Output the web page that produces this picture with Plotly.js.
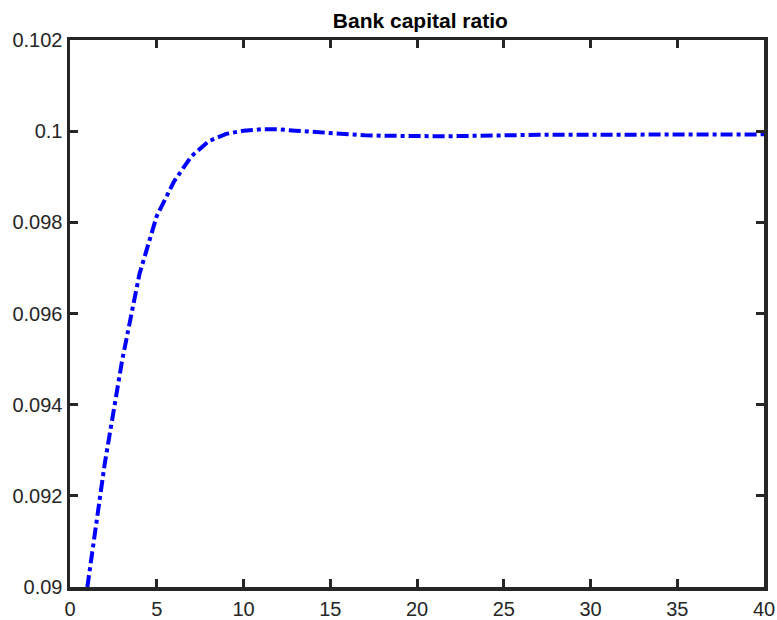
<!DOCTYPE html>
<html>
<head>
<meta charset="utf-8">
<script src="https://cdn.plot.ly/plotly-3.0.1.min.js"></script>
<style>html,body{margin:0;padding:0;background:#fff;}#chart{width:777px;height:620px;}</style>
</head>
<body>
<div id="chart"></div>
<script>
const periods = [1,2,3,4,5,6,7,8,9,10,11,12,13,14,15,16,17,18,19,20,21,22,23,24,25,26,27,28,29,30,31,32,33,34,35,36,37,38,39,40];
const capitalRatio = [0.0900,0.0927,0.09496,0.09686,0.09814,0.0989,0.09945,0.09978,0.09994,0.10001,
  0.10004,0.10004,0.10001,0.09998,0.09995,0.09993,0.09991,0.0999,0.09989,0.09989,
  0.09989,0.09989,0.0999,0.0999,0.09991,0.09991,0.09992,0.09992,0.09992,0.09993,
  0.09993,0.09993,0.09993,0.09993,0.09993,0.09993,0.09993,0.09993,0.09993,0.09993];
const xTicks = [0,5,10,15,20,25,30,35,40];
const yTicks = [0.09,0.092,0.094,0.096,0.098,0.1,0.102];
const yTickText = ['0.09','0.092','0.094','0.096','0.098','0.1','0.102'];

const axisCommon = {
  showline: true, mirror: 'ticks', linecolor: '#262626', linewidth: 3.5,
  ticks: 'inside', ticklen: 8, tickwidth: 3, tickcolor: '#262626',
  showgrid: false, zeroline: false,
  tickfont: {family: 'Liberation Sans, Arial, sans-serif', size: 20, color: '#262626'}
};

Plotly.newPlot('chart', [{
  x: periods, y: capitalRatio, type: 'scatter', mode: 'lines',
  line: {color: '#0000ff', width: 4, dash: '12px,4px,4px,4px'},
  cliponaxis: true
}], {
  width: 777, height: 620,
  margin: {l: 70, r: 13, t: 40, b: 33},
  paper_bgcolor: '#ffffff', plot_bgcolor: '#ffffff',
  showlegend: false,
  title: {text: '<b>Bank capital ratio</b>', x: 0.541, xanchor: 'center', y: 0.966, yanchor: 'middle',
    font: {family: 'Liberation Sans, Arial, sans-serif', size: 21, color: '#000000'}},
  xaxis: Object.assign({}, axisCommon, {range: [0, 40], tickvals: xTicks, ticktext: xTicks.map(String), ticklabelstandoff: 1}),
  yaxis: Object.assign({}, axisCommon, {range: [0.09, 0.102], tickvals: yTicks, ticktext: yTickText})
}, {displayModeBar: false, staticPlot: true});
</script>
</body>
</html>
